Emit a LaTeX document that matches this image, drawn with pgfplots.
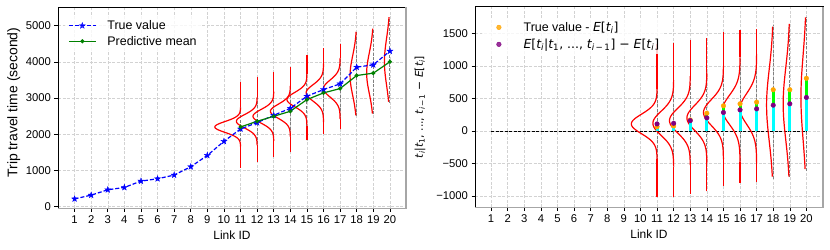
\documentclass[border=0pt]{standalone}
\usepackage{fontspec}
\setmainfont{Liberation Sans}
\newfontfamily\djv{DejaVu Sans}
\usepackage{pgfplots}
\usepackage{pgfplotstable}
\pgfplotsset{compat=1.18}
\usetikzlibrary{plotmarks}
\definecolor{mplorange}{RGB}{255,165,0}
\definecolor{mplpurple}{RGB}{128,0,128}
\definecolor{mplgreen}{RGB}{0,128,0}
\definecolor{mplcyan}{RGB}{0,255,255}
\definecolor{mpllime}{RGB}{0,255,0}
\newcommand{\m}[1]{{\djv\itshape #1}}
\newcommand{\sub}[1]{\textsubscript{#1}}
\pgfdeclareplotmark{fstar}{%
 \pgfpathmoveto{\pgfpointpolar{90}{\pgfplotmarksize}}%
 \pgfpathlineto{\pgfpointpolar{126}{0.4\pgfplotmarksize}}%
 \pgfpathlineto{\pgfpointpolar{162}{\pgfplotmarksize}}%
 \pgfpathlineto{\pgfpointpolar{198}{0.4\pgfplotmarksize}}%
 \pgfpathlineto{\pgfpointpolar{234}{\pgfplotmarksize}}%
 \pgfpathlineto{\pgfpointpolar{270}{0.4\pgfplotmarksize}}%
 \pgfpathlineto{\pgfpointpolar{306}{\pgfplotmarksize}}%
 \pgfpathlineto{\pgfpointpolar{342}{0.4\pgfplotmarksize}}%
 \pgfpathlineto{\pgfpointpolar{18}{\pgfplotmarksize}}%
 \pgfpathlineto{\pgfpointpolar{54}{0.4\pgfplotmarksize}}%
 \pgfpathclose
 \pgfusepathqfillstroke}
% normalised density shape: z, exp(-z^2/2)
\pgfplotstableread{
z g
-3.6 0
-3.4 0.0031
-3.2 0.0060
-3.0 0.0111
-2.9 0.0149
-2.8 0.0198
-2.7 0.0261
-2.6 0.0340
-2.5 0.0439
-2.4 0.0561
-2.3 0.0710
-2.2 0.0889
-2.1 0.1103
-2.0 0.1353
-1.9 0.1645
-1.8 0.1979
-1.7 0.2357
-1.6 0.2780
-1.5 0.3247
-1.4 0.3753
-1.3 0.4296
-1.2 0.4868
-1.1 0.5461
-1.0 0.6065
-0.9 0.6670
-0.8 0.7261
-0.7 0.7827
-0.6 0.8353
-0.5 0.8825
-0.4 0.9231
-0.3 0.9560
-0.2 0.9802
-0.1 0.9950
0.0 1.0000
0.1 0.9950
0.2 0.9802
0.3 0.9560
0.4 0.9231
0.5 0.8825
0.6 0.8353
0.7 0.7827
0.8 0.7261
0.9 0.6670
1.0 0.6065
1.1 0.5461
1.2 0.4868
1.3 0.4296
1.4 0.3753
1.5 0.3247
1.6 0.2780
1.7 0.2357
1.8 0.1979
1.9 0.1645
2.0 0.1353
2.1 0.1103
2.2 0.0889
2.3 0.0710
2.4 0.0561
2.5 0.0439
2.6 0.0340
2.7 0.0261
2.8 0.0198
2.9 0.0149
3.0 0.0111
3.2 0.0060
3.4 0.0031
3.6 0
}\shape
\pgfplotsset{
 myax/.style={
  scale only axis, width=348bp,
  axis line style={black, line width=0.6bp},
  tick style={black, line width=0.6bp},
  tick align=outside, major tick length=3.5bp, tick pos=left,
  xtick={1,...,20},
  grid=major, grid style={gray!35, line width=0.5bp, dash pattern=on 3bp off 1.5bp},
  ticklabel style={font=\fontsize{11.3}{13}\selectfont},
  /pgf/number format/assume math mode=true,
  /pgf/number format/1000 sep={},
  scaled y ticks=false,
  xlabel={Link ID},
  xlabel style={font=\fontsize{12}{14}\selectfont, at={(rel axis cs:0.5,0)}, anchor=base, yshift=-31bp},
  legend cell align=left,
  legend style={draw=none, fill=white, fill opacity=0.8, text opacity=1,
    at={(0,1)}, anchor=north west, xshift=7bp, yshift=-9bp,
    inner xsep=3bp, inner ysep=2bp, row sep=1bp, column sep=9bp,
    font=\fontsize{12.5}{15}\selectfont, nodes={inner sep=2bp}},
  legend image code/.code={\draw[mark repeat=2,mark phase=2,##1] plot coordinates {(0bp,0bp) (13.5bp,0bp) (27bp,0bp)};},
  after end axis/.code={\draw[gray!70, line width=1.2bp] (rel axis cs:1,1) -- (rel axis cs:1,0) -- (rel axis cs:0,0);},
 },
 curve/.style={red, line width=1.2bp, forget plot},
 dotleg/.style={legend image code/.code={\path (0bp,0bp) (27bp,0bp); \draw[##1] plot coordinates {(13.5bp,0bp)};}},
}
\begin{document}
\begin{tikzpicture}
\useasboundingbox (0,0) rectangle (830bp,250bp);
% ---------------- left panel ----------------
\begin{axis}[myax, height=201bp, at={(58bp,41.7bp)}, anchor=south west,
  xmin=0, xmax=20.97, ymin=-50, ymax=5510,
  ytick={0,1000,2000,3000,4000,5000}, yticklabels={0,1000,2000,3000,4000,5000},
  ylabel={Trip travel time (second)},
  ylabel style={font=\fontsize{14}{16}\selectfont, at={(axis description cs:-0.127,0.526)}, anchor=center}]
\addplot[gray, line width=0.9bp, dash pattern=on 3bp off 1.5bp, forget plot, unbounded coords=jump] coordinates {
(11,1070) (11,3435) (12,nan) (12,1227) (12,3592) (13,nan) (13,1365) (13,3730) (14,nan)
(14,1504) (14,3869) (15,nan) (15,1827) (15,4192) (16,nan) (16,2012) (16,4377) (17,nan)
(17,2132) (17,4497) (18,nan) (18,2493) (18,4858) (19,nan) (19,2558) (19,4923) (20,nan)
(20,2872) (20,5237)};
\addplot[curve, unbounded coords=jump] coordinates {
(11,1070) (11,1660) (11,nan) (11,2740) (11,3435) (12,nan)
(12,1227) (12,1691) (12,nan) (12,3023) (12,3592) (13,nan)
(13,1365) (13,1811) (13,nan) (13,3179) (13,3730) (14,nan)
(14,1504) (14,1932) (14,nan) (14,3336) (14,3869) (15,nan)
(15,1827) (15,2237) (15,nan) (15,3677) (15,4192) (16,nan)
(16,2012) (16,2332) (16,nan) (16,3952) (16,4377) (17,nan)
(17,2132) (17,2416) (17,nan) (17,4108) (17,4497)};
\addplot[curve] table[x expr={11-1.55*\thisrow{g}}, y expr={2200+150*\thisrow{z}}] {\shape};
\addplot[curve] table[x expr={12-1.25*\thisrow{g}}, y expr={2357+185*\thisrow{z}}] {\shape};
\addplot[curve] table[x expr={13-1.25*\thisrow{g}}, y expr={2495+190*\thisrow{z}}] {\shape};
\addplot[curve] table[x expr={14-1.20*\thisrow{g}}, y expr={2634+195*\thisrow{z}}] {\shape};
\addplot[curve] table[x expr={15-1.20*\thisrow{g}}, y expr={2957+200*\thisrow{z}}] {\shape};
\addplot[curve] table[x expr={16-1.05*\thisrow{g}}, y expr={3142+225*\thisrow{z}}] {\shape};
\addplot[curve] table[x expr={17-1.00*\thisrow{g}}, y expr={3262+235*\thisrow{z}}] {\shape};
\addplot[curve, restrict y to domain=2493:4858] table[x expr={18-0.40*\thisrow{g}}, y expr={3623+550*\thisrow{z}}] {\shape};
\addplot[curve, restrict y to domain=2558:4923] table[x expr={19-0.40*\thisrow{g}}, y expr={3688+560*\thisrow{z}}] {\shape};
\addplot[curve, restrict y to domain=2872:5237] table[x expr={20-0.33*\thisrow{g}}, y expr={4002+650*\thisrow{z}}] {\shape};
\addplot[blue, line width=1.2bp, dash pattern=on 4bp off 2bp, mark=fstar, mark size=3.2bp, mark options={solid, line width=0.3bp}] coordinates {
(1,210) (2,314) (3,462) (4,527) (5,702) (6,767) (7,869) (8,1100) (9,1414) (10,1802)
(11,2144) (12,2320) (13,2523) (14,2717) (15,3050) (16,3235) (17,3392) (18,3854) (19,3919) (20,4298)};
\addlegendentry{True value}
\addplot[mplgreen, line width=1.2bp, mark=*, mark size=1.4bp] coordinates {
(11,2200) (12,2357) (13,2495) (14,2634) (15,2957) (16,3142) (17,3262) (18,3623) (19,3688) (20,4002)};
\addlegendentry{Predictive mean}
\end{axis}
% ---------------- right panel ----------------
\begin{axis}[myax, height=200.6bp, at={(475bp,42.7bp)}, anchor=south west,
  xmin=0.03, xmax=21.0, ymin=-1175, ymax=1915,
  ytick={-1000,-500,0,500,1000,1500}, yticklabels={−1000,−500,0,500,1000,1500},
  legend style={yshift=-2bp, row sep=2bp},
  ylabel={{\djv \m{t}\sub{\m{i}}|\m{t}\sub{1}, ..., \m{t}\sub{\m{i}\,−\,1} − \m{E}[\m{t}\sub{\m{i}}]}},
  ylabel style={font=\fontsize{10.8}{13}\selectfont, at={(axis description cs:-0.158,0.50)}, anchor=center}]
\addplot[black, line width=0.9bp, dash pattern=on 3bp off 1.5bp, forget plot] coordinates {(1,0) (20,0)};
\addplot[gray, line width=0.9bp, dash pattern=on 3bp off 1.5bp, forget plot, unbounded coords=jump] coordinates {
(11,-1021) (11,1344) (12,nan) (12,-1011) (12,1354) (13,nan) (13,-970) (13,1395) (14,nan)
(14,-928) (14,1437) (15,nan) (15,-845) (15,1520) (16,nan) (16,-804) (16,1561) (17,nan)
(17,-789) (17,1576) (18,nan) (18,-732) (18,1633) (19,nan) (19,-711) (19,1654) (20,nan)
(20,-613) (20,1752)};
\addplot[curve, unbounded coords=jump] coordinates {
(11,-1021) (11,-431) (11,nan) (11,649) (11,1344) (12,nan)
(12,-1011) (12,-547) (12,nan) (12,785) (12,1354) (13,nan)
(13,-970) (13,-524) (13,nan) (13,844) (13,1395) (14,nan)
(14,-928) (14,-500) (14,nan) (14,904) (14,1437) (15,nan)
(15,-845) (15,-435) (15,nan) (15,1005) (15,1520) (16,nan)
(16,-804) (16,-484) (16,nan) (16,1136) (16,1561) (17,nan)
(17,-789) (17,-505) (17,nan) (17,1187) (17,1576)};
\addplot[curve] table[x expr={11-1.55*\thisrow{g}}, y expr={109+150*\thisrow{z}}] {\shape};
\addplot[curve] table[x expr={12-1.25*\thisrow{g}}, y expr={119+185*\thisrow{z}}] {\shape};
\addplot[curve] table[x expr={13-1.25*\thisrow{g}}, y expr={160+190*\thisrow{z}}] {\shape};
\addplot[curve] table[x expr={14-1.20*\thisrow{g}}, y expr={202+195*\thisrow{z}}] {\shape};
\addplot[curve] table[x expr={15-1.20*\thisrow{g}}, y expr={285+200*\thisrow{z}}] {\shape};
\addplot[curve] table[x expr={16-1.05*\thisrow{g}}, y expr={326+225*\thisrow{z}}] {\shape};
\addplot[curve] table[x expr={17-1.00*\thisrow{g}}, y expr={341+235*\thisrow{z}}] {\shape};
\addplot[curve, restrict y to domain=-732:1633] table[x expr={18-0.40*\thisrow{g}}, y expr={398+550*\thisrow{z}}] {\shape};
\addplot[curve, restrict y to domain=-711:1654] table[x expr={19-0.40*\thisrow{g}}, y expr={419+560*\thisrow{z}}] {\shape};
\addplot[curve, restrict y to domain=-613:1752] table[x expr={20-0.33*\thisrow{g}}, y expr={517+650*\thisrow{z}}] {\shape};
\addplot[mpllime, line width=3bp, ycomb, forget plot] coordinates {
(11,67) (12,78) (13,171) (14,274) (15,388) (16,419) (17,445) (18,636) (19,636) (20,812)};
\addplot[mplcyan, line width=3bp, ycomb, forget plot] coordinates {
(11,109) (12,119) (13,160) (14,202) (15,285) (16,326) (17,341) (18,398) (19,419) (20,517)};
\addplot[only marks, mark=*, mark size=2.3bp, draw=mplorange, fill=mplorange, dotleg] coordinates {
(11,67) (12,78) (13,171) (14,274) (15,388) (16,419) (17,445) (18,636) (19,636) (20,812)};
\addlegendentry{True value - {\djv\m{E}[\m{t}\sub{\m{i}}]}}
\addplot[only marks, mark=*, mark size=2.3bp, draw=mplpurple, fill=mplpurple, dotleg] coordinates {
(11,109) (12,119) (13,160) (14,202) (15,285) (16,326) (17,341) (18,398) (19,419) (20,517)};
\addlegendentry{{\djv\m{E}[\m{t}\sub{\m{i}}|\m{t}\sub{1}, ..., \m{t}\sub{\m{i}\,−\,1}] − \m{E}[\m{t}\sub{\m{i}}]}}
\end{axis}
\end{tikzpicture}
\end{document}
